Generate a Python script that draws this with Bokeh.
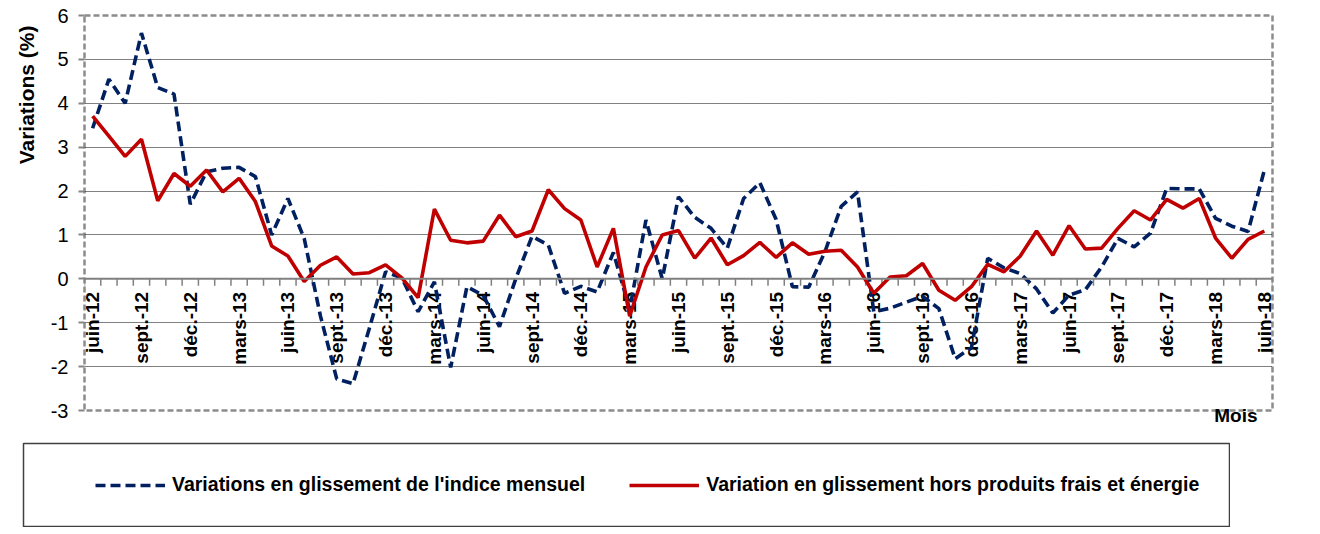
import math
import numpy as np
from bokeh.plotting import figure
from bokeh.layouts import column, row
from bokeh.models import Range1d, FixedTicker, Span, Legend, LegendItem, Title, Spacer
from bokeh.embed import file_html
from bokeh.resources import INLINE
from bokeh.core.properties import value

# ---------------- data ----------------
n_months = 73  # juin-12 ... juin-18
tick_labels = ["juin-12", "sept.-12", "déc.-12", "mars-13", "juin-13", "sept.-13", "déc.-13",
               "mars-14", "juin-14", "sept.-14", "déc.-14", "mars-15", "juin-15", "sept.-15",
               "déc.-15", "mars-16", "juin-16", "sept.-16", "déc.-16", "mars-17", "juin-17",
               "sept.-17", "déc.-17", "mars-18", "juin-18"]

indice_mensuel = [3.43, 4.55, 4.00, 5.60, 4.36, 4.21, 1.70, 2.44, 2.52, 2.54,
                  2.33, 1.00, 1.83, 0.92, -0.85, -2.28, -2.39, -1.13, 0.16, 0.02,
                  -0.75, -0.07, -2.02, -0.18, -0.38, -1.09, 0.00, 0.97, 0.77, -0.33,
                  -0.17, -0.30, 0.60, -0.70, 1.34, 0.00, 1.87, 1.40, 1.15, 0.70,
                  1.83, 2.19, 1.35, -0.18, -0.19, 0.62, 1.65, 1.98, -0.75, -0.67,
                  -0.53, -0.40, -0.68, -1.82, -1.57, 0.47, 0.25, 0.12, -0.23, -0.78,
                  -0.37, -0.25, 0.27, 0.92, 0.73, 1.04, 2.06, 2.05, 2.05, 1.38,
                  1.20, 1.08, 2.48]

hors_frais_energie = [3.71, 3.25, 2.79, 3.18, 1.78, 2.40, 2.11, 2.48, 1.98, 2.29,
                      1.76, 0.75, 0.52, -0.06, 0.31, 0.50, 0.11, 0.14, 0.32, 0.02,
                      -0.43, 1.59, 0.88, 0.82, 0.86, 1.45, 0.96, 1.09, 2.03, 1.60,
                      1.34, 0.27, 1.15, -0.85, 0.27, 1.00, 1.10, 0.47, 0.93, 0.32,
                      0.53, 0.83, 0.49, 0.82, 0.56, 0.63, 0.65, 0.27, -0.33, 0.04,
                      0.07, 0.35, -0.26, -0.49, -0.18, 0.33, 0.16, 0.52, 1.09, 0.54,
                      1.21, 0.68, 0.70, 1.15, 1.55, 1.34, 1.81, 1.61, 1.83, 0.93,
                      0.47, 0.90, 1.09]

y_ticks = [-3, -2, -1, 0, 1, 2, 3, 4, 5, 6]

label_indice = "Variations en glissement de l'indice mensuel"
label_core = "Variation en glissement hors produits frais et énergie"

# ---------------- styles ----------------
FONT = "Liberation Sans"
BLUE = "#002060"
RED = "#C00000"
BLUE_DASH = "10 5"
LW = 3.6

x = np.arange(n_months)
tick_pos = np.arange(0, n_months, 3)
bounds = np.arange(n_months + 1) - 0.5

# ---------------- main chart ----------------
p = figure(width=1312, height=440,
           x_range=Range1d(-0.5, n_months - 0.5), y_range=Range1d(y_ticks[0], y_ticks[-1]),
           output_backend="svg", toolbar_location=None,
           min_border_left=84, min_border_right=40, min_border_top=15, min_border_bottom=30)

p.background_fill_color = "white"
p.border_fill_color = "white"
p.outline_line_color = "#8c8c8c"
p.outline_line_width = 2.5
p.outline_line_dash = "6 3"

p.xaxis.visible = False
p.xgrid.visible = False

p.yaxis.ticker = FixedTicker(ticks=y_ticks)
p.yaxis.major_label_overrides = {t: str(t) for t in y_ticks}
p.yaxis.axis_line_color = None
p.yaxis.major_tick_out = 6
p.yaxis.major_tick_in = 0
p.yaxis.major_tick_line_color = "#868686"
p.yaxis.major_tick_line_width = 2
p.yaxis.minor_tick_line_color = None
p.yaxis.major_label_standoff = 10
p.yaxis.major_label_text_font = FONT
p.yaxis.major_label_text_font_size = "20px"
p.yaxis.major_label_text_color = "black"

p.ygrid.ticker = FixedTicker(ticks=y_ticks)
p.ygrid.grid_line_color = "black"
p.ygrid.grid_line_dash = "1 1"
p.ygrid.grid_line_width = 1

# zero line acting as category axis
p.add_layout(Span(location=0, dimension="width", line_color="#808080", line_width=2))
p.ray(x=bounds, y=np.zeros(len(bounds)), length=7, length_units="screen",
      angle=-math.pi / 2, line_color="#808080", line_width=1.5)

# category labels along the zero line
p.text(x=tick_pos, y=np.zeros(len(tick_pos)), text=tick_labels, angle=math.pi / 2,
       text_align="right", text_baseline="middle", y_offset=13,
       text_font=value(FONT), text_font_style="bold", text_font_size="19px",
       text_color="black")

p.line(x, indice_mensuel, line_color=BLUE, line_width=LW, line_dash=BLUE_DASH)
p.line(x, hors_frais_energie, line_color=RED, line_width=LW)

# axis titles
p.add_layout(Title(text="Variations (%)", align="right", offset=10, standoff=20,
                   text_font=FONT, text_font_style="bold", text_font_size="21px",
                   text_color="black"), "left")
p.add_layout(Title(text="Mois", align="right", offset=15, standoff=-16,
                   text_font=FONT, text_font_style="bold", text_font_size="19px",
                   text_color="black"), "below")

# ---------------- legend box ----------------
lf = figure(width=1208, height=85, x_range=Range1d(0, 1), y_range=Range1d(100, 101),
            output_backend="svg", toolbar_location=None,
            min_border_left=1, min_border_right=1, min_border_top=1, min_border_bottom=1)
lf.xaxis.visible = False
lf.yaxis.visible = False
lf.grid.visible = False
lf.outline_line_color = "#404040"
lf.outline_line_width = 1.5
lf.background_fill_color = "white"
lf.border_fill_color = "white"

# same series, outside this box's visible range: only their legend samples show
lr_blue = lf.line(x, indice_mensuel, line_color=BLUE, line_width=LW, line_dash=BLUE_DASH)
lr_red = lf.line(x, hors_frais_energie, line_color=RED, line_width=LW)

legend = Legend(items=[
    LegendItem(label=label_indice, renderers=[lr_blue]),
    LegendItem(label=label_core, renderers=[lr_red]),
], orientation="horizontal", location=(72, 30), padding=0, spacing=44,
    glyph_width=70, glyph_height=20, label_standoff=7, margin=0,
    label_text_font=FONT, label_text_font_style="bold", label_text_font_size="19.5px",
    label_text_color="black", border_line_color=None, background_fill_alpha=0)
lf.add_layout(legend, "center")

layout = column(p, Spacer(height=2), row(Spacer(width=22), lf))

open("out.html", "w").write(file_html(layout, INLINE))
